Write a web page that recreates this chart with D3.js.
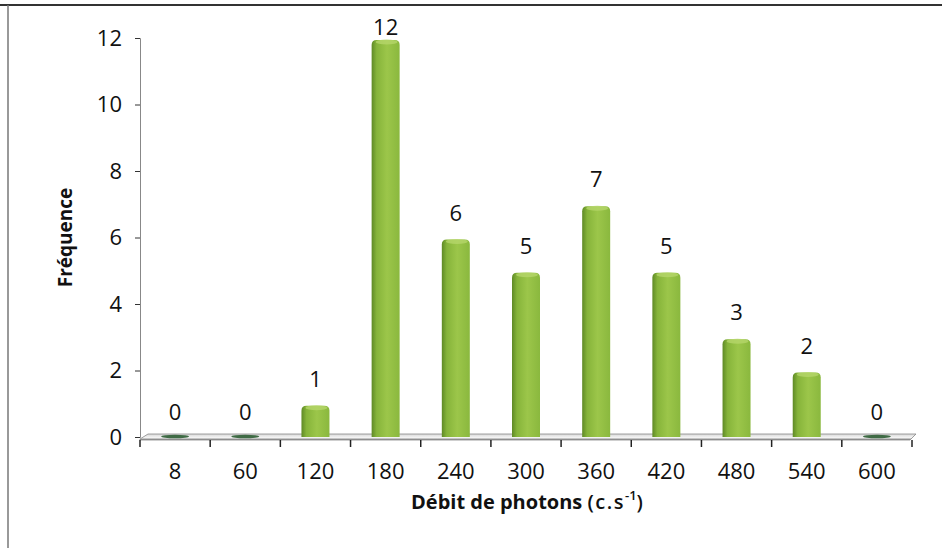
<!DOCTYPE html>
<meta charset="utf-8">
<style>
body{ margin:0; background:#fff; }
text{ font-family: "Open Sans", "Noto Sans", sans-serif; fill:#111; }
</style>
<div id="chart"></div>
<script src="https://cdn.jsdelivr.net/npm/d3@7"></script>
<script>

var categories = ['8','60','120','180','240','300','360','420','480','540','600']
var counts = [0, 0, 1, 12, 6, 5, 7, 5, 3, 2, 0]
var yTicks = [0, 2, 4, 6, 8, 10, 12]

var width = 942, height = 560
var plotLeft = 140, plotRight = 912, plotTop = 38, plotBottom = 437

var svg = d3.select('#chart').append('svg')
    .attr('width', width).attr('height', height)

// frame lines
svg.append('line').attr('x1', 0).attr('x2', width).attr('y1', 5).attr('y2', 5)
    .style('stroke', '#333').style('stroke-width', 2)
svg.append('line').attr('x1', 8).attr('x2', 8).attr('y1', 5).attr('y2', 548)
    .style('stroke', '#777').style('stroke-width', 1.5)

var x = d3.scaleBand().domain(categories).range([plotLeft, plotRight]).padding(0)
var y = d3.scaleLinear().domain([0, 12]).range([plotBottom, plotTop])

var defs = svg.append('defs')
var grad = defs.append('linearGradient').attr('id', 'barg')
grad.append('stop').attr('offset', '0%').attr('stop-color', '#5f8a26')
grad.append('stop').attr('offset', '18%').attr('stop-color', '#86b43a')
grad.append('stop').attr('offset', '55%').attr('stop-color', '#9cc64a')
grad.append('stop').attr('offset', '100%').attr('stop-color', '#8ab83e')

var floorG = defs.append('linearGradient').attr('id', 'floorg')
    .attr('x1', 0).attr('x2', 0).attr('y1', 0).attr('y2', 1)
floorG.append('stop').attr('offset', '0%').attr('stop-color', '#d8d8d8')
floorG.append('stop').attr('offset', '60%').attr('stop-color', '#f4f4f4')
floorG.append('stop').attr('offset', '100%').attr('stop-color', '#777')

// y axis
var yAxis = d3.axisLeft(y).tickValues(yTicks).tickSize(5).tickPadding(13)
var ga = svg.append('g').attr('transform', 'translate(' + plotLeft + ',0)').call(yAxis)
ga.attr('font-size', null).attr('font-family', null)
ga.select('.domain').style('stroke', '#888')
ga.selectAll('.tick line').style('stroke', '#333')
ga.selectAll('text').style('font-size', '22px')

// floor
svg.append('path')
    .attr('d', 'M' + plotLeft + ',' + (plotBottom + 2) + 'L' + (plotLeft + 8) + ',' + (plotBottom - 3) +
               'L' + (plotRight + 4) + ',' + (plotBottom - 3) + 'L' + (plotRight - 2) + ',' + (plotBottom + 3) +
               'L' + plotLeft + ',' + (plotBottom + 3) + 'Z')
    .style('fill', 'url(#floorg)').style('stroke', '#888').style('stroke-width', 0.8)

// x axis ticks (between categories)
var xt = categories.map(function(c){ return x(c) }).concat([plotRight])
svg.selectAll('.xtick').data(xt).enter().append('line')
    .attr('x1', function(d){ return d }).attr('x2', function(d){ return d })
    .attr('y1', plotBottom + 3).attr('y2', plotBottom + 10)
    .style('stroke', '#222').style('stroke-width', 1.5)

svg.selectAll('.xlab').data(categories).enter().append('text')
    .attr('x', function(d){ return x(d) + x.bandwidth() / 2 })
    .attr('y', plotBottom + 42)
    .attr('text-anchor', 'middle')
    .style('font-size', '22px')
    .text(function(d){ return d })

// bars
var bw = 28
function barPath(cx, v){
  var x0 = cx - bw / 2, x1 = cx + bw / 2, yt = y(v) + 2, yb = plotBottom, r = 5
  return 'M' + x0 + ',' + yb + 'L' + x0 + ',' + (yt + r) +
    'Q' + x0 + ',' + yt + ' ' + (x0 + r) + ',' + yt +
    'L' + (x1 - r) + ',' + yt +
    'Q' + x1 + ',' + yt + ' ' + x1 + ',' + (yt + r) +
    'L' + x1 + ',' + yb + 'Z'
}

var data = categories.map(function(c, i){ return {c: c, v: counts[i]} })
var nonZero = data.filter(function(d){ return d.v > 0 })

svg.selectAll('.bar').data(nonZero).enter().append('path')
    .attr('d', function(d){ return barPath(x(d.c) + x.bandwidth() / 2, d.v) })
    .style('fill', 'url(#barg)')

svg.selectAll('.cap').data(nonZero).enter().append('ellipse')
    .attr('cx', function(d){ return x(d.c) + x.bandwidth() / 2 + 1 })
    .attr('cy', function(d){ return y(d.v) + 4 })
    .attr('rx', bw / 2 - 3).attr('ry', 2.5)
    .style('fill', '#b5d66a').style('opacity', 0.8)

svg.selectAll('.zero').data(data.filter(function(d){ return d.v === 0 })).enter().append('ellipse')
    .attr('cx', function(d){ return x(d.c) + x.bandwidth() / 2 })
    .attr('cy', plotBottom - 0.5)
    .attr('rx', bw / 2).attr('ry', 1.8)
    .style('fill', '#3f6b45')

// value labels
svg.selectAll('.val').data(data).enter().append('text')
    .attr('x', function(d){ return x(d.c) + x.bandwidth() / 2 })
    .attr('y', function(d){ return Math.max(y(d.v) - 17, 35) })
    .attr('text-anchor', 'middle')
    .style('font-size', '22px')
    .text(function(d){ return d.v })

// axis titles
svg.append('text')
    .attr('transform', 'translate(72,' + ((plotTop + plotBottom) / 2) + ') rotate(-90)')
    .attr('text-anchor', 'middle')
    .style('font-size', '19px').style('font-weight', 'bold')
    .text('Fréquence')

var xt2 = svg.append('text')
    .attr('x', 527).attr('y', 509)
    .attr('text-anchor', 'middle')
    .style('font-size', '20px').style('font-weight', 'bold')
xt2.append('tspan').text('Débit de photons ')
xt2.append('tspan').style('font-weight', '600').style('letter-spacing', '1.5px').text('(c.s')
xt2.append('tspan').style('font-weight', '600').style('font-size', '13px').attr('dy', -9).text('-1')
xt2.append('tspan').style('font-weight', '600').attr('dy', 9).text(')')

</script>
